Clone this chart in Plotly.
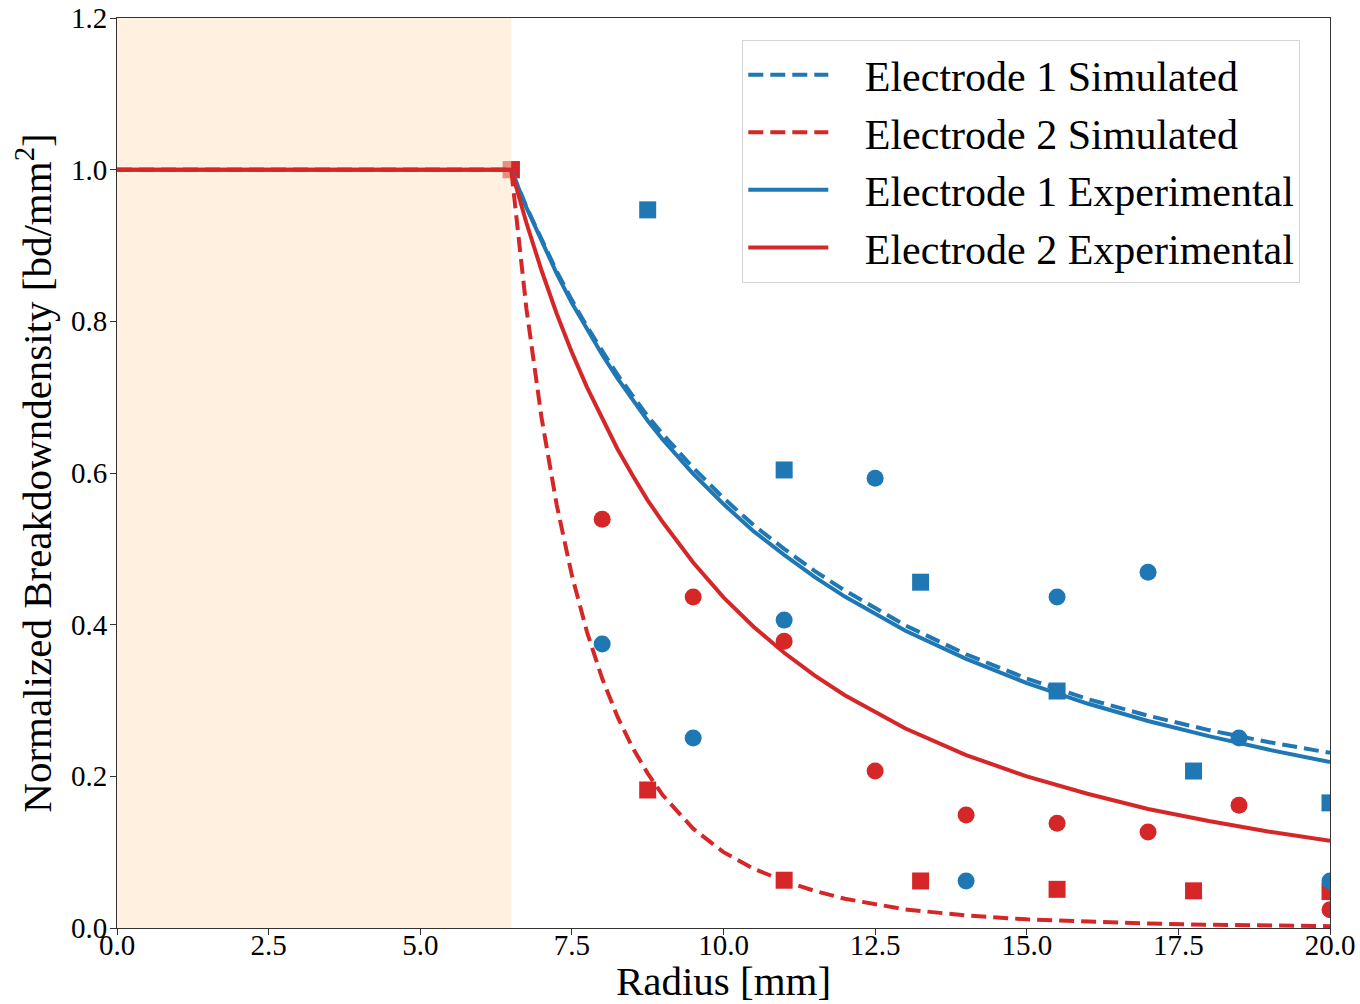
import plotly.graph_objects as go

# ---------------- data ----------------
curve_x = [0, 6.5, 6.75, 7, 7.25, 7.5, 7.75, 8, 8.25, 8.5, 8.75, 9, 9.5, 10, 10.5,
           11, 11.5, 12, 13, 14, 15, 16, 17, 18, 19, 20]
e1_sim = [1.0, 1.0, 0.951, 0.907, 0.866, 0.828, 0.793, 0.761, 0.730, 0.702, 0.675, 0.651,
          0.607, 0.567, 0.531, 0.500, 0.471, 0.445, 0.399, 0.361, 0.329, 0.302, 0.280,
          0.261, 0.245, 0.231]
e2_sim = [1.0, 1.0, 0.817, 0.673, 0.558, 0.465, 0.390, 0.329, 0.279, 0.238, 0.204, 0.175,
          0.131, 0.100, 0.078, 0.062, 0.049, 0.0385, 0.0245, 0.0165, 0.0114, 0.0081,
          0.0058, 0.0043, 0.0032, 0.0024]
e1_exp = [1.0, 1.0, 0.950, 0.905, 0.863, 0.824, 0.789, 0.756, 0.725, 0.696, 0.669, 0.644,
          0.599, 0.559, 0.523, 0.492, 0.463, 0.437, 0.392, 0.355, 0.323, 0.296, 0.273,
          0.253, 0.235, 0.219]
e2_exp = [1.0, 1.0, 0.930, 0.867, 0.810, 0.759, 0.713, 0.671, 0.632, 0.597, 0.564, 0.535,
          0.482, 0.436, 0.397, 0.363, 0.333, 0.307, 0.263, 0.228, 0.200, 0.177, 0.157,
          0.141, 0.127, 0.115]

square_x = [6.5, 8.75, 11.0, 13.25, 15.5, 17.75, 20.0]
e1_square_y = [1.0, 0.947, 0.604, 0.456, 0.3125, 0.207, 0.165]
e2_square_y = [1.0, 0.182, 0.063, 0.062, 0.051, 0.049, 0.048]

circle_x = [8.0, 9.5, 11.0, 12.5, 14.0, 15.5, 17.0, 18.5, 20.0]
e1_circle_y = [0.3745, 0.2506, 0.406, 0.593, 0.062, 0.4365, 0.469, 0.2506, 0.062]
e2_circle_y = [0.539, 0.4365, 0.378, 0.207, 0.149, 0.138, 0.1266, 0.162, 0.024]

electrode_region = [0.0, 6.5]
x_ticks = [0, 2.5, 5, 7.5, 10, 12.5, 15, 17.5, 20]
x_tick_labels = ["0.0", "2.5", "5.0", "7.5", "10.0", "12.5", "15.0", "17.5", "20.0"]
y_ticks = [0, 0.2, 0.4, 0.6, 0.8, 1.0, 1.2]
y_tick_labels = ["0.0", "0.2", "0.4", "0.6", "0.8", "1.0", "1.2"]

BLUE = "#1f77b4"
RED = "#d62728"
FONT = "Liberation Serif, Times New Roman, serif"
DASH = "15px,7px"
LW = 4
PAD = "&nbsp;&nbsp;&nbsp;"

fig = go.Figure()

# markers (drawn beneath the shaded region)
fig.add_trace(go.Scatter(x=square_x, y=e1_square_y, mode="markers", showlegend=False,
                         marker=dict(symbol="square", size=17, color=BLUE, line=dict(width=0))))
fig.add_trace(go.Scatter(x=square_x, y=e2_square_y, mode="markers", showlegend=False,
                         marker=dict(symbol="square", size=17, color=RED, line=dict(width=0))))
fig.add_trace(go.Scatter(x=circle_x, y=e1_circle_y, mode="markers", showlegend=False,
                         marker=dict(symbol="circle", size=17, color=BLUE, line=dict(width=0))))
fig.add_trace(go.Scatter(x=circle_x, y=e2_circle_y, mode="markers", showlegend=False,
                         marker=dict(symbol="circle", size=17, color=RED, line=dict(width=0))))

# shaded electrode region
x0, x1 = electrode_region
fig.add_trace(go.Scatter(x=[x0, x1, x1, x0, x0], y=[0, 0, 1.2, 1.2, 0], mode="lines",
                         fill="toself", fillcolor="rgba(255,228,196,0.55)",
                         line=dict(width=0), showlegend=False, hoverinfo="skip"))

# curves
fig.add_trace(go.Scatter(x=curve_x, y=e1_sim, mode="lines", name=PAD + "Electrode 1 Simulated",
                         line=dict(color=BLUE, width=LW, dash=DASH)))
fig.add_trace(go.Scatter(x=curve_x, y=e2_sim, mode="lines", name=PAD + "Electrode 2 Simulated",
                         line=dict(color=RED, width=LW, dash=DASH)))
fig.add_trace(go.Scatter(x=curve_x, y=e1_exp, mode="lines", name=PAD + "Electrode 1 Experimental",
                         line=dict(color=BLUE, width=LW)))
fig.add_trace(go.Scatter(x=curve_x, y=e2_exp, mode="lines", name=PAD + "Electrode 2 Experimental",
                         line=dict(color=RED, width=LW)))

axis_common = dict(showline=True, linecolor="#333", linewidth=1, mirror=True,
                   ticks="outside", ticklen=6, tickwidth=1, tickcolor="#333",
                   showgrid=False, zeroline=False, automargin=False,
                   tickfont=dict(family=FONT, size=29, color="black"))

fig.update_layout(
    width=1360, height=1004,
    margin=dict(l=117, r=30, t=18, b=76),
    paper_bgcolor="white", plot_bgcolor="white",
    font=dict(family=FONT, color="black"),
    xaxis=dict(range=[0, 20], tickvals=x_ticks, ticktext=x_tick_labels,
               ticklabelstandoff=-15,
               title=dict(text="Radius [mm]", font=dict(family=FONT, size=41), standoff=2),
               **axis_common),
    yaxis=dict(range=[0, 1.2], tickvals=y_ticks, ticktext=y_tick_labels,
               ticklabelstandoff=-3,
               title=dict(text="Normalized Breakdowndensity [bd/mm<sup>2</sup>]",
                          font=dict(family=FONT, size=41), standoff=6),
               **axis_common),
    legend=dict(x=0.9755, y=0.976, xanchor="right", yanchor="top",
                bgcolor="white", bordercolor="#d5d5d5", borderwidth=1,
                font=dict(family=FONT, size=42), itemwidth=80,
                tracegroupgap=0),
)

fig.write_html("out.html")
